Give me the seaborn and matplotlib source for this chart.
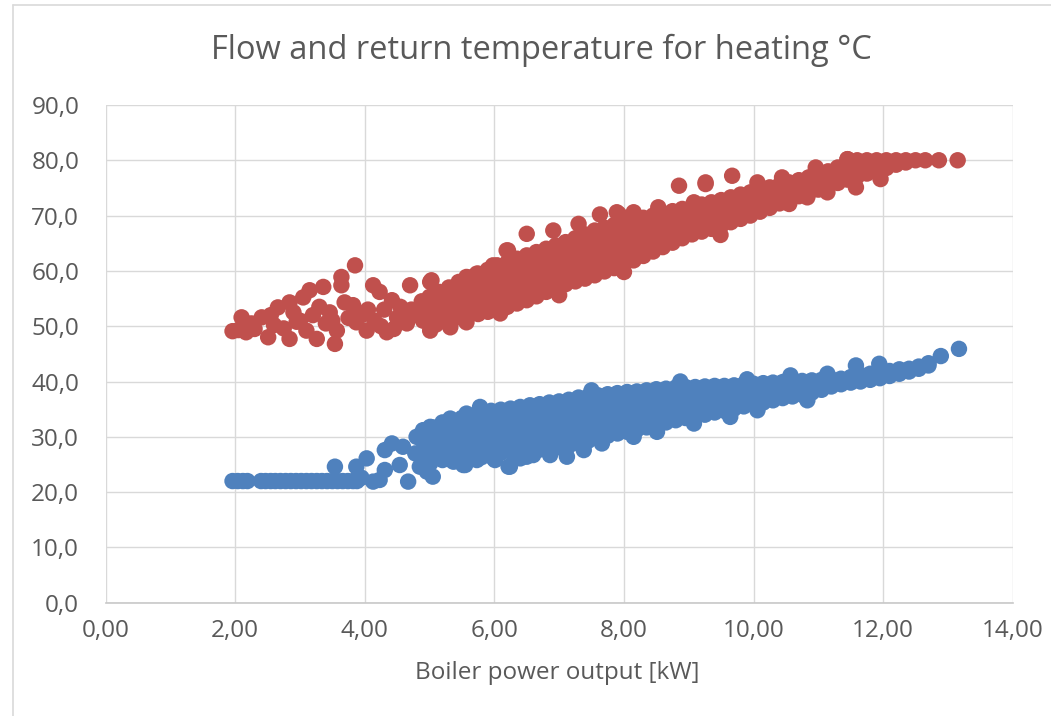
import seaborn as sns
import matplotlib.pyplot as plt
import pandas as pd
from matplotlib.ticker import FuncFormatter
from matplotlib.lines import Line2D

# flow temperature (red) - scattered points at low boiler power
flow_sparse_x = [1.96, 2.05, 2.10, 2.17, 2.30, 2.41, 2.51, 2.60, 2.66, 2.75, 2.84, 2.84,
                 2.95, 3.00, 3.05, 3.10, 3.15, 3.20, 3.26, 3.36, 3.40, 3.46, 3.54, 3.57,
                 3.64, 3.64, 3.69, 3.75, 3.82, 3.85, 3.87, 3.95, 4.03, 4.13, 4.15, 4.23,
                 4.30, 4.34, 4.42, 4.50, 4.60, 4.70, 4.72, 4.80, 4.88, 5.01, 5.01, 5.03,
                 5.32, 5.37, 5.57, 5.57, 5.73, 5.98, 6.04, 6.09, 6.19, 6.21,
                 2.25, 2.55, 2.90, 3.30, 3.50, 4.05, 4.25, 4.45, 4.55, 4.65, 4.90, 4.95,
                 5.10, 5.20]
flow_sparse_y = [49.1, 49.3, 51.6, 48.9, 49.5, 51.6, 48.0, 50.2, 53.4, 49.6, 54.3, 47.7,
                 50.8, 51.0, 55.2, 49.2, 56.5, 52.0, 47.7, 57.1, 50.5, 52.5, 46.8, 49.2,
                 58.9, 57.4, 54.3, 51.5, 53.8, 61.0, 50.7, 52.0, 49.2, 57.4, 51.0, 56.2,
                 53.0, 48.9, 54.7, 51.5, 51.6, 57.4, 53.0, 52.0, 54.5, 58.0, 49.2, 58.3,
                 49.8, 55.9, 50.7, 58.9, 59.5, 61.0, 61.0, 52.3, 63.7, 63.7,
                 50.5, 52.0, 52.5, 53.5, 51.0, 53.0, 50.0, 49.5, 53.5, 50.5, 51.0, 52.5,
                 50.3, 52.0]

# flow temperature - points off the main band
flow_out_x = [6.50, 6.91, 7.30, 7.63, 7.89, 7.92, 8.15, 8.53, 8.85, 9.08, 9.26, 9.26,
              9.67, 10.06, 10.44, 10.96, 11.45, 10.55, 10.83, 11.14, 11.58, 11.96, 9.49,
              8.00, 7.00]
flow_out_y = [66.7, 67.3, 68.5, 70.2, 70.6, 70.3, 70.6, 71.5, 75.4, 72.4, 76.0, 75.7,
              77.2, 76.0, 76.9, 78.7, 80.2, 72.1, 73.3, 74.2, 75.1, 76.6, 66.5,
              59.8, 55.6]

# flow temperature - dense band, one column of points per power value
flow_band_x = [5.0, 5.15, 5.3, 5.45, 5.6, 5.75, 5.9, 6.05, 6.2, 6.35, 6.5, 6.65, 6.8,
               6.95, 7.1, 7.25, 7.4, 7.55, 7.7, 7.85, 8.0, 8.15, 8.3, 8.45, 8.6, 8.75,
               8.9, 9.05, 9.2, 9.35, 9.5, 9.65, 9.8, 9.95, 10.1, 10.25, 10.4, 10.55,
               10.7, 10.85, 11.0, 11.15, 11.3, 11.45, 11.6, 11.75, 11.9, 12.05, 12.2,
               12.35, 12.5, 12.65, 12.86, 13.15]
flow_band_y = [
    [50.8, 52.6, 54.4, 55.3], [51.1, 53.0, 54.8, 56.2], [51.3, 53.2, 55.1, 57.0],
    [51.6, 53.4, 55.2, 57.0, 58.0], [51.9, 53.8, 55.6, 57.4, 58.8],
    [52.2, 54.0, 55.8, 57.7, 59.5], [52.6, 54.5, 56.4, 58.3, 60.2],
    [53.0, 55.0, 57.0, 59.0, 60.9], [53.5, 55.5, 57.5, 59.5, 61.5],
    [54.1, 56.1, 58.1, 60.2, 62.2], [54.7, 56.7, 58.7, 60.8, 62.8],
    [55.4, 57.4, 59.4, 61.4, 63.4], [56.2, 58.2, 60.1, 62.1, 64.0],
    [57.0, 58.9, 60.8, 62.7, 64.6], [57.6, 59.5, 61.4, 63.3, 65.2],
    [58.1, 60.0, 62.0, 64.0, 65.9], [58.6, 60.6, 62.6, 64.6, 66.6],
    [59.2, 61.2, 63.2, 65.3, 67.3], [59.9, 61.9, 63.9, 65.9, 67.8],
    [60.5, 62.4, 64.4, 66.4, 68.3], [61.2, 63.1, 65.0, 66.9, 68.8],
    [61.9, 63.7, 65.6, 67.4, 69.2], [62.7, 64.5, 66.2, 67.9, 69.6],
    [63.5, 65.2, 66.8, 68.4, 70.0], [64.3, 65.9, 67.5, 69.0, 70.4],
    [65.1, 66.6, 68.0, 69.4, 70.8], [65.9, 67.2, 68.5, 69.9, 71.2],
    [66.6, 67.9, 69.3, 70.5, 71.6], [67.1, 68.7, 70.3, 72.0], [67.6, 69.2, 70.8, 72.4],
    [68.2, 69.7, 71.3, 72.8], [68.8, 70.3, 71.8, 73.3], [69.4, 70.9, 72.3, 73.8],
    [70.0, 71.4, 72.8, 74.2], [70.7, 72.0, 73.3, 74.6], [71.4, 72.6, 73.9, 75.1],
    [72.2, 73.3, 74.4, 75.5], [72.9, 74.0, 75.0, 76.0], [73.5, 74.5, 75.5, 76.4],
    [74.1, 75.0, 76.0, 76.9], [74.7, 76.0, 77.3], [75.3, 76.6, 78.0], [75.9, 77.3, 78.7],
    [76.5, 78.0, 79.4, 80.2], [77.1, 78.6, 80.0], [77.6, 78.8, 80.0], [78.1, 79.1, 80.0],
    [78.6, 80.0], [79.2, 80.0], [79.6, 80.0], [80.0], [80.0], [80.0], [80.0],
]

# return temperature (blue) - flat part at minimum power
return_flat_x = [1.96, 2.04, 2.12, 2.19, 2.40, 2.47, 2.55, 2.62, 2.70, 2.78, 2.86, 2.94,
                 3.02, 3.10, 3.18, 3.26, 3.34, 3.42, 3.50, 3.58, 3.66, 3.74, 3.82, 3.88]
return_flat_y = [22.0, 22.0, 22.0, 22.0, 22.0, 22.0, 22.0, 22.0, 22.0, 22.0, 22.0, 22.0,
                 22.0, 22.0, 22.0, 22.0, 22.0, 22.0, 22.0, 22.0, 22.0, 22.0, 22.0, 22.0]

# return temperature - scattered points
return_out_x = [3.54, 3.87, 3.95, 4.03, 4.13, 4.23, 4.31, 4.31, 4.42, 4.54, 4.59, 4.67,
                4.78, 4.80, 4.85, 4.96, 5.01, 5.01, 5.05, 5.16, 5.32, 5.34, 5.37, 5.52,
                5.55, 5.57, 5.73, 5.78, 5.78, 5.99, 6.01, 6.22, 6.24, 6.40, 6.50, 6.60,
                6.86, 7.12, 7.37, 7.38, 7.66, 8.15, 8.51, 9.08, 9.64, 10.06, 10.83, 8.87,
                10.57, 11.14, 11.58, 11.94, 9.90, 7.50]
return_out_y = [24.6, 24.6, 22.6, 26.1, 21.9, 22.2, 27.6, 24.0, 28.8, 24.9, 28.2, 21.9,
                27.0, 30.0, 24.6, 23.7, 31.8, 25.2, 22.8, 26.4, 33.3, 25.8, 25.5, 24.9,
                24.9, 34.2, 25.8, 35.4, 26.4, 26.1, 25.8, 24.6, 24.6, 26.1, 26.4, 26.7,
                26.7, 26.4, 28.2, 27.6, 28.8, 30.0, 30.9, 32.4, 33.6, 34.8, 36.6, 40.0,
                41.1, 41.4, 42.9, 43.2, 40.4, 38.4]

# return temperature - dense band
return_band_x = [4.9, 5.05, 5.2, 5.35, 5.5, 5.65, 5.8, 5.95, 6.1, 6.25, 6.4, 6.55, 6.7,
                 6.85, 7.0, 7.15, 7.3, 7.45, 7.6, 7.75, 7.9, 8.05, 8.2, 8.35, 8.5, 8.65,
                 8.8, 8.95, 9.1, 9.25, 9.4, 9.55, 9.7, 9.85, 10.0, 10.15, 10.3, 10.45,
                 10.6, 10.75, 10.9, 11.05, 11.2, 11.35, 11.5, 11.65, 11.8, 11.95, 12.1,
                 12.25, 12.4, 12.55, 12.7, 12.89, 13.17]
return_band_y = [
    [25.4, 27.3, 29.2, 31.2], [26.0, 27.9, 29.8, 31.7], [25.8, 27.6, 29.4, 31.2, 32.6],
    [25.8, 27.7, 29.6, 31.5, 33.0], [25.8, 27.7, 29.6, 31.5, 33.4],
    [26.0, 27.9, 29.8, 31.7, 33.8], [26.3, 28.2, 30.1, 32.0, 34.0],
    [26.9, 28.9, 30.8, 32.8, 34.7], [27.1, 29.1, 31.0, 32.9, 34.9],
    [27.3, 29.2, 31.2, 33.1, 35.1], [27.5, 29.4, 31.4, 33.4, 35.4],
    [27.6, 29.6, 31.6, 33.6, 35.7], [27.7, 29.8, 31.8, 33.9, 35.9],
    [27.9, 30.0, 32.0, 34.1, 36.2], [28.1, 30.2, 32.3, 34.4, 36.4],
    [28.4, 30.4, 32.5, 34.6, 36.7], [28.8, 30.9, 32.9, 35.0, 37.1],
    [29.3, 31.3, 33.3, 35.3, 37.3], [29.8, 31.7, 33.6, 35.6, 37.5],
    [30.2, 32.1, 34.0, 35.9, 37.7], [30.6, 32.4, 34.2, 36.1, 37.9],
    [30.9, 32.7, 34.5, 36.3, 38.1], [31.3, 33.1, 34.8, 36.5, 38.2],
    [31.7, 33.4, 35.1, 36.8, 38.4], [32.2, 33.8, 35.4, 37.0, 38.6],
    [32.6, 34.2, 35.7, 37.3, 38.7], [33.0, 34.5, 36.0, 37.4, 38.9],
    [33.4, 34.8, 36.2, 37.6, 39.0], [33.7, 35.1, 36.5, 37.8, 39.0],
    [34.0, 35.4, 36.7, 38.0, 39.1], [34.4, 35.7, 37.0, 38.2, 39.2],
    [34.7, 36.3, 37.8, 39.2], [35.1, 36.6, 38.0, 39.3], [35.5, 36.9, 38.2, 39.5],
    [35.9, 37.2, 38.4, 39.6], [36.2, 37.4, 38.6, 39.7], [36.6, 37.7, 38.8, 39.8],
    [37.0, 38.0, 39.0, 39.9], [37.3, 38.2, 39.1, 40.0], [37.6, 38.5, 39.3, 40.1],
    [38.0, 38.8, 39.6, 40.2], [38.5, 39.4, 40.3], [39.1, 39.8, 40.4], [39.5, 40.0, 40.5],
    [39.8, 40.3, 40.8], [40.0, 40.6, 41.2], [40.3, 40.8, 41.4], [40.6, 41.1, 41.6],
    [41.0, 41.5, 41.9], [41.4, 41.9, 42.2], [41.8, 42.3], [42.3, 42.7], [42.9, 43.3],
    [44.6], [45.9],
]

x_ticks = [0, 2, 4, 6, 8, 10, 12, 14]
y_ticks = [0, 10, 20, 30, 40, 50, 60, 70, 80, 90]

# build one long table for seaborn
rows = []
for x, y in zip(flow_sparse_x + flow_out_x, flow_sparse_y + flow_out_y):
    rows.append((x, y, "flow"))
for x, ys in zip(flow_band_x, flow_band_y):
    for y in ys:
        rows.append((x, y, "flow"))
for x, y in zip(return_flat_x + return_out_x, return_flat_y + return_out_y):
    rows.append((x, y, "return"))
for x, ys in zip(return_band_x, return_band_y):
    for y in ys:
        rows.append((x, y, "return"))
df = pd.DataFrame(rows, columns=["power", "temp", "series"])

sns.set_style("white")
plt.rcParams["font.family"] = ["Open Sans", "DejaVu Sans"]
grey = "#595959"

fig = plt.figure(figsize=(10.51, 7.16), dpi=100)
ax = fig.add_axes([0.1004, 0.1582, 0.8632, 0.6952])

sns.scatterplot(data=df, x="power", y="temp", hue="series",
                palette={"flow": "#C0504D", "return": "#4F81BD"},
                s=140, linewidth=0, alpha=1, legend=False, ax=ax, zorder=3)

ax.set_xlim(0, 14)
ax.set_ylim(0, 90)
ax.set_xticks(x_ticks)
ax.set_yticks(y_ticks)
ax.xaxis.set_major_formatter(FuncFormatter(lambda v, p: f"{v:.2f}".replace(".", ",")))
ax.yaxis.set_major_formatter(FuncFormatter(lambda v, p: f"{v:.1f}".replace(".", ",")))
ax.grid(True, color="#D9D9D9", linewidth=1.0)
ax.set_axisbelow(True)
for side in ["left", "right", "top"]:
    ax.spines[side].set_visible(False)
ax.spines["bottom"].set_color("#C8C8C8")
ax.spines["bottom"].set_linewidth(1.2)
ax.tick_params(axis="both", length=0, labelsize=17.5, colors=grey)
ax.tick_params(axis="y", pad=19)
ax.tick_params(axis="x", pad=12)
ax.set_xlabel("")
ax.set_ylabel("")

fig.text(0.530, 0.060, "Boiler power output [kW]", ha="center", va="center",
         fontsize=17.5, color=grey)
fig.text(0.515, 0.930, "Flow and return temperature for heating °C", ha="center",
         va="center", fontsize=23.5, color=grey)

# chart area border (only left and top visible in the crop)
fig.add_artist(Line2D([0.0119, 0.0119], [0, 0.993], transform=fig.transFigure,
                      color="#D9D9D9", linewidth=1.2))
fig.add_artist(Line2D([0.0119, 1.0], [0.993, 0.993], transform=fig.transFigure,
                      color="#D9D9D9", linewidth=1.2))

fig.savefig("out.png", dpi=100)
